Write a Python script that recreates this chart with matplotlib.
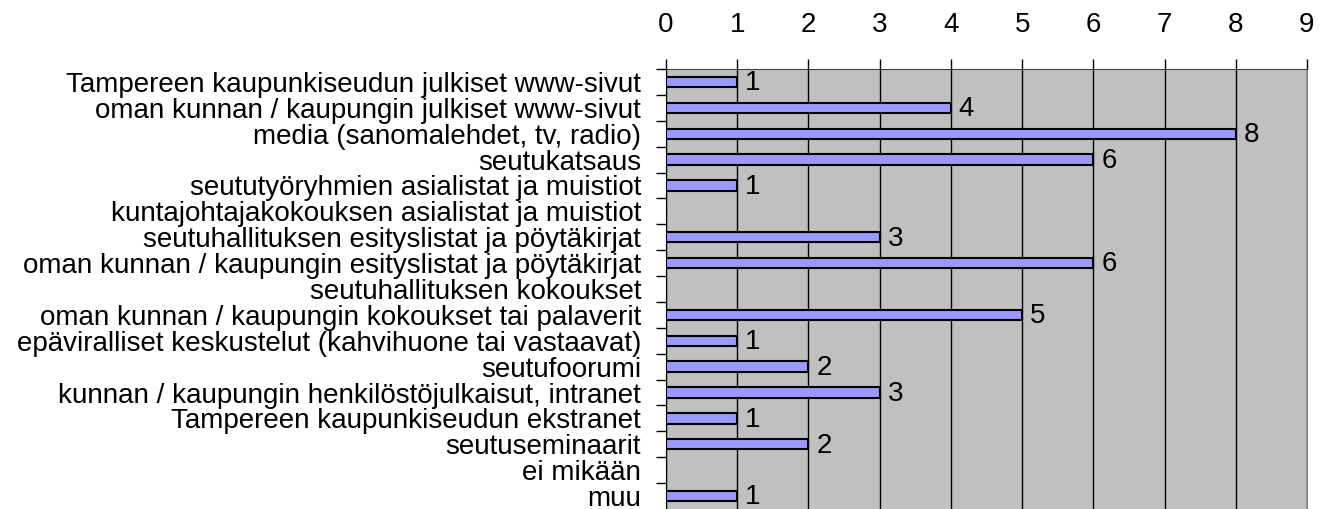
import matplotlib.pyplot as plt

categories = [
    "Tampereen kaupunkiseudun julkiset www-sivut",
    "oman kunnan / kaupungin julkiset www-sivut",
    "media (sanomalehdet, tv, radio)",
    "seutukatsaus",
    "seututyöryhmien asialistat ja muistiot",
    "kuntajohtajakokouksen asialistat ja muistiot",
    "seutuhallituksen esityslistat ja pöytäkirjat",
    "oman kunnan / kaupungin esityslistat ja pöytäkirjat",
    "seutuhallituksen kokoukset",
    "oman kunnan / kaupungin kokoukset tai palaverit",
    "epäviralliset keskustelut (kahvihuone tai vastaavat)",
    "seutufoorumi",
    "kunnan / kaupungin henkilöstöjulkaisut, intranet",
    "Tampereen kaupunkiseudun ekstranet",
    "seutuseminaarit",
    "ei mikään",
    "muu",
]
values = [1, 4, 8, 6, 1, 0, 3, 6, 0, 5, 1, 2, 3, 1, 2, 0, 1]
xticks = list(range(10))

plt.rcParams['font.family'] = ['Liberation Sans', 'DejaVu Sans']

fig = plt.figure(figsize=(13.34, 5.09), dpi=100)
ax = fig.add_axes([666 / 1334, 0, (1307 - 666) / 1334, (509 - 69) / 509])
ax.set_facecolor('#C0C0C0')

n = len(categories)
ypos = list(range(n))
ax.barh(ypos, values, height=0.4, color='#9999FF', edgecolor='black', linewidth=1.5, zorder=3)
for y, v in zip(ypos, values):
    if v > 0:
        ax.text(v + 0.11, y + 0.05, str(v), va='center', ha='left', fontsize=20, zorder=4)

ax.set_xlim(0, 9)
ax.set_ylim(n - 0.5, -0.5)
ax.set_xticks(xticks)
ax.xaxis.tick_top()
ax.tick_params(axis='x', length=7, width=1, labelsize=20, pad=15, direction='out')
ax.grid(axis='x', color='black', linewidth=1, zorder=1)

ax.set_yticks(ypos)
ax.set_yticklabels(categories, fontsize=20, va='center_baseline')
ax.tick_params(axis='y', length=0, pad=18)
ax.set_yticks([i + 0.5 for i in range(-1, n - 1)], minor=True)
ax.tick_params(axis='y', which='minor', length=7, width=1)

ax.spines['bottom'].set_visible(False)
ax.spines['right'].set_color('#808080')
ax.spines['top'].set_color('#404040')

fig.savefig('out.png', dpi=100)
